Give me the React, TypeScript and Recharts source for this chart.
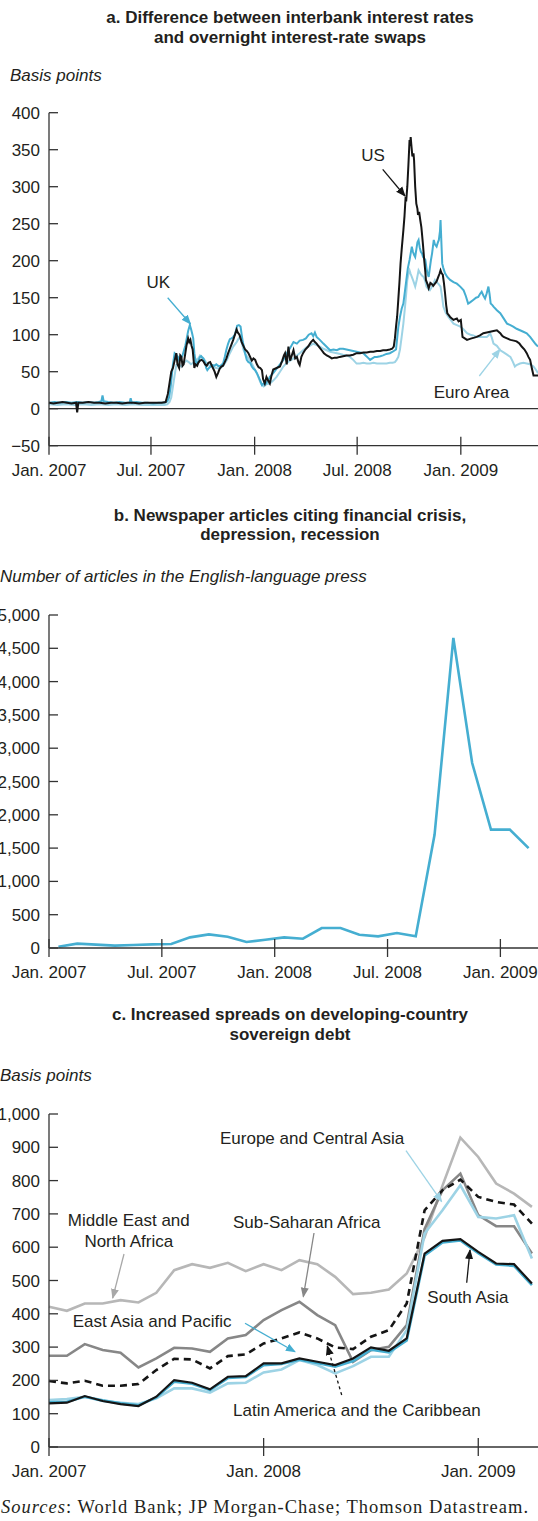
import React from 'react';
import { LineChart, Line, XAxis, YAxis, ReferenceLine } from 'recharts';

const SANS = '"Liberation Sans", Arial, Helvetica, sans-serif';
const SERIF = '"Liberation Serif", "Times New Roman", serif';
const AXIS = '#333333';
const TEXT = '#231f20';
const BLACK = '#151515';
const BLUE = '#45aed1';
const LIGHT = '#9dd3e5';
const DGREY = '#878787';
const LGREY = '#b7b7b7';
const W = 538;

// ---------- Panel a : days since 1 Jan 2007, basis points ----------
const aTickDays = [0, 181, 365, 547, 731];
const dateLabels = ['Jan. 2007', 'Jul. 2007', 'Jan. 2008', 'Jul. 2008', 'Jan. 2009'];
const aYTicks = [-50, 0, 50, 100, 150, 200, 250, 300, 350, 400];

const usSpread: [number, number][] = [
  [0, 8], [8, 7], [16, 8], [24, 9], [32, 8], [40, 7], [48, 8], [50, -5], [52, 8], [60, 8], [70, 9], [80, 8], [90, 8],
  [100, 7], [110, 8], [120, 8], [130, 7], [140, 8], [150, 8], [160, 7], [170, 8], [180, 8], [190, 8], [200, 8], [207, 9],
  [211, 20], [214, 35], [217, 50], [220, 55], [223, 65], [226, 75], [228, 60], [231, 55], [233, 72], [235, 70], [237, 58],
  [239, 60], [242, 75], [244, 85], [247, 95], [249, 90], [251, 93], [253, 85], [255, 80], [258, 55], [260, 60], [263, 58],
  [265, 62], [268, 65], [271, 66], [274, 64], [277, 60], [280, 58], [283, 62], [286, 63], [289, 58], [291, 55], [294, 50],
  [297, 43], [300, 48], [303, 54], [306, 57], [309, 58], [312, 63], [315, 68], [318, 75], [321, 81], [324, 87], [327, 93],
  [330, 100], [333, 107], [335, 103], [338, 100], [340, 95], [342, 90], [345, 85], [348, 80], [351, 78], [354, 75],
  [357, 70], [360, 65], [363, 68], [366, 66], [369, 60], [372, 56], [375, 55], [378, 52], [380, 40], [383, 34], [386, 43],
  [389, 38], [392, 34], [395, 45], [398, 53], [404, 55], [410, 57], [414, 65], [417, 72], [419, 75], [422, 60], [425, 84],
  [428, 65], [431, 72], [434, 79], [437, 68], [440, 70], [443, 62], [445, 59], [448, 70], [451, 75], [455, 80], [460, 84],
  [465, 90], [469, 93], [472, 90], [475, 88], [480, 83], [484, 79], [488, 75], [493, 72], [498, 70], [502, 68], [507, 69],
  [511, 69], [516, 70], [522, 71], [528, 72], [534, 72], [540, 73], [546, 75], [552, 75], [558, 76], [564, 76], [570, 77],
  [576, 77], [582, 78], [588, 78], [593, 79], [599, 79], [605, 80], [609, 81], [612, 84], [614, 95], [616, 111], [618, 125],
  [620, 147], [622, 170], [624, 196], [626, 215], [629, 241], [631, 260], [633, 286], [634, 280], [636, 300], [638, 330],
  [640, 363], [641, 355], [642, 367], [643, 358], [645, 341], [647, 345], [648, 336], [650, 300], [652, 277], [654, 270],
  [655, 262], [657, 266], [659, 255], [661, 245], [662, 237], [664, 220], [666, 201], [668, 185], [669, 174], [672, 168],
  [674, 163], [677, 170], [679, 169], [682, 166], [685, 169], [688, 172], [691, 178], [693, 182], [695, 187], [697, 183],
  [699, 181], [701, 170], [703, 156], [705, 140], [707, 129], [710, 126], [712, 124], [715, 122], [718, 120], [721, 121],
  [724, 122], [727, 118], [731, 120], [733, 105], [734, 97], [738, 95], [742, 93], [746, 94], [750, 95], [755, 96],
  [759, 97], [765, 99], [771, 102], [777, 103], [783, 104], [789, 105], [795, 106], [798, 104], [801, 102], [804, 99],
  [807, 97], [813, 95], [819, 93], [825, 92], [830, 91], [835, 88], [839, 84], [844, 80], [848, 75], [851, 70], [854, 66],
  [857, 55], [860, 45], [868, 45],
];

const ukSpread: [number, number][] = [
  [0, 8], [10, 9], [20, 8], [30, 9], [40, 8], [50, 9], [60, 8], [70, 9], [80, 8], [88, 9], [93, 10], [95, 18], [97, 10],
  [105, 9], [115, 8], [125, 9], [135, 8], [143, 8], [145, 14], [147, 8], [155, 9], [165, 8], [175, 8], [185, 7], [195, 8],
  [205, 8], [210, 10], [213, 15], [216, 30], [218, 45], [220, 60], [223, 75], [226, 73], [229, 70], [231, 65], [234, 68],
  [237, 72], [240, 80], [242, 85], [244, 93], [247, 105], [250, 113], [252, 108], [254, 102], [256, 95], [258, 75],
  [260, 65], [262, 61], [265, 64], [268, 70], [270, 71], [272, 69], [274, 68], [277, 62], [279, 55], [281, 52], [284, 55],
  [287, 57], [290, 59], [293, 58], [297, 60], [300, 58], [303, 57], [306, 59], [309, 61], [312, 70], [315, 80], [318, 88],
  [321, 94], [324, 95], [327, 97], [330, 100], [332, 106], [334, 112], [337, 113], [340, 111], [342, 100], [344, 90],
  [346, 84], [348, 75], [351, 66], [354, 63], [357, 62], [360, 57], [363, 54], [366, 52], [369, 48], [372, 43], [375, 38],
  [378, 32], [381, 34], [384, 33], [387, 36], [390, 40], [392, 43], [398, 48], [404, 54], [410, 60], [416, 66], [422, 75],
  [428, 82], [434, 90], [440, 88], [445, 92], [451, 93], [456, 95], [461, 100], [466, 102], [469, 98], [472, 103],
  [475, 97], [478, 95], [482, 92], [487, 88], [491, 85], [495, 82], [499, 79], [505, 80], [511, 79], [516, 81], [522, 81],
  [528, 80], [534, 79], [540, 78], [546, 77], [552, 76], [558, 75], [562, 72], [566, 69], [570, 66], [574, 68], [578, 70],
  [582, 70], [588, 71], [593, 72], [599, 74], [605, 75], [610, 77], [614, 79], [616, 80], [618, 95], [620, 110], [623, 124],
  [626, 135], [629, 142], [632, 160], [635, 178], [637, 190], [640, 201], [642, 210], [644, 219], [646, 212], [648, 208],
  [650, 205], [652, 215], [654, 225], [656, 228], [658, 218], [660, 212], [662, 210], [664, 205], [666, 203], [668, 201],
  [670, 190], [672, 182], [674, 178], [676, 190], [678, 201], [680, 210], [683, 228], [685, 222], [688, 219], [690, 224],
  [692, 228], [694, 240], [695, 255], [696, 235], [698, 196], [700, 190], [703, 183], [707, 178], [712, 174], [718, 171],
  [724, 169], [730, 165], [736, 160], [740, 152], [744, 142], [748, 144], [753, 147], [758, 150], [762, 151], [765, 155],
  [768, 158], [771, 153], [774, 149], [777, 156], [780, 165], [782, 155], [784, 142], [787, 140], [789, 138], [795, 133],
  [801, 129], [807, 122], [813, 115], [819, 113], [824, 111], [830, 108], [836, 106], [842, 104], [848, 102], [854, 97],
  [860, 91], [864, 87], [868, 84],
];

const euroSpread: [number, number][] = [
  [0, 6], [15, 5], [30, 6], [45, 5], [60, 6], [75, 5], [90, 6], [105, 5], [120, 6], [135, 5], [150, 6], [165, 5], [180, 5],
  [195, 5], [205, 5], [210, 6], [214, 9], [217, 15], [220, 30], [223, 45], [226, 59], [230, 60], [235, 57], [240, 62],
  [244, 65], [248, 63], [252, 60], [256, 62], [260, 65], [265, 68], [268, 72], [272, 70], [276, 66], [280, 61], [285, 58],
  [291, 57], [297, 55], [303, 54], [309, 58], [312, 61], [316, 66], [321, 75], [327, 84], [333, 90], [336, 94], [339, 97],
  [342, 90], [345, 80], [348, 75], [352, 70], [357, 65], [362, 58], [366, 52], [369, 48], [372, 42], [375, 36], [378, 32],
  [381, 30], [386, 33], [392, 34], [398, 38], [404, 43], [410, 50], [416, 57], [422, 62], [428, 65], [434, 68], [440, 72],
  [445, 75], [451, 79], [457, 83], [463, 85], [469, 88], [475, 86], [481, 84], [487, 81], [493, 79], [499, 77], [505, 76],
  [511, 75], [517, 74], [522, 73], [528, 72], [534, 70], [540, 66], [546, 61], [552, 61], [558, 62], [564, 61], [570, 61],
  [576, 62], [582, 61], [588, 61], [593, 61], [599, 61], [605, 62], [610, 62], [614, 63], [617, 66], [620, 70], [623, 80],
  [626, 97], [629, 115], [632, 138], [634, 155], [636, 174], [638, 182], [640, 187], [642, 182], [644, 178], [647, 172],
  [650, 165], [653, 175], [656, 187], [659, 183], [662, 180], [665, 178], [668, 172], [670, 165], [673, 162], [676, 160],
  [680, 165], [683, 170], [685, 174], [688, 171], [691, 169], [693, 167], [695, 165], [698, 150], [700, 138], [704, 130],
  [709, 124], [713, 120], [718, 115], [724, 113], [730, 111], [736, 107], [742, 102], [748, 100], [753, 99], [759, 97],
  [765, 97], [771, 97], [777, 97], [780, 99], [783, 102], [786, 96], [789, 88], [795, 85], [801, 79], [807, 76], [813, 73],
  [819, 70], [823, 64], [827, 57], [830, 59], [836, 61], [842, 62], [848, 61], [854, 60], [860, 57], [864, 53], [868, 48],
];

// ---------- Panel b : monthly article counts, Jan 2007 - Feb 2009 ----------
const bTickMonths = [0, 6, 12, 18, 24];
const bYTicks = [0, 500, 1000, 1500, 2000, 2500, 3000, 3500, 4000, 4500, 5000];
const articleCounts = [20, 65, 50, 35, 45, 55, 60, 160, 205, 170, 90, 125, 160, 140, 300, 300, 200, 175, 225, 175, 1700, 4655, 2778, 1777, 1777, 1500];

// ---------- Panel c : monthly sovereign spreads, Jan 2007 - Apr 2009 ----------
const cTickMonths = [0, 12, 24];
const cTickLabels = ['Jan. 2007', 'Jan. 2008', 'Jan. 2009'];
const cYTicks = [0, 100, 200, 300, 400, 500, 600, 700, 800, 900, 1000];
const menaSpread = [421, 409, 431, 431, 441, 434, 463, 531, 549, 538, 553, 528, 549, 531, 561, 549, 511, 459, 463, 473, 521, 630, 785, 929, 871, 791, 761, 721];
const ssaSpread = [274, 274, 309, 291, 283, 239, 266, 298, 296, 286, 326, 336, 381, 411, 436, 396, 366, 256, 291, 301, 366, 655, 771, 821, 696, 663, 663, 581];
const lacSpread = [198, 191, 199, 184, 184, 189, 231, 265, 263, 236, 273, 278, 311, 326, 344, 326, 299, 294, 331, 351, 431, 711, 771, 803, 751, 736, 728, 671];
const ecaSpread = [141, 144, 151, 138, 133, 129, 146, 176, 176, 163, 191, 193, 224, 233, 261, 246, 221, 243, 271, 271, 351, 641, 711, 786, 691, 686, 696, 566];
const eapSpread = [134, 136, 151, 140, 131, 125, 149, 196, 190, 171, 207, 210, 246, 249, 262, 252, 241, 258, 292, 284, 320, 575, 614, 620, 582, 548, 544, 486];
const saSpread = [131, 133, 153, 138, 129, 123, 151, 201, 193, 173, 211, 213, 251, 251, 266, 256, 246, 266, 299, 289, 326, 581, 619, 624, 586, 551, 549, 491];

const pairs = (arr: [number, number][]) => arr.map(([d, v]) => ({ d, v }));
const fmtThousands = (v: number) => (v < 0 ? '\u2212' + Math.abs(v) : v.toLocaleString('en-US'));

const makeXTick = (ticks: number[], labels: string[]) => (props: any) => {
  const { x, y, payload } = props;
  const i = ticks.indexOf(payload.value);
  return (
    <g>
      <line x1={x} x2={x} y1={y - 9} y2={y + 9} stroke={AXIS} strokeWidth={1.3} />
      <text x={x} y={y + 30} textAnchor="middle" fontSize={17} fontFamily={SANS} fill={TEXT}>
        {labels[i]}
      </text>
    </g>
  );
};

const YTick = (props: any) => {
  const { x, y, payload } = props;
  return (
    <g>
      <line x1={x} x2={x + 9} y1={y} y2={y} stroke={AXIS} strokeWidth={1.3} />
      <text x={x - 9} y={y + 6} textAnchor="end" fontSize={17} fontFamily={SANS} fill={TEXT}>
        {fmtThousands(payload.value)}
      </text>
    </g>
  );
};

const axisLineStyle = { stroke: AXIS, strokeWidth: 1.3 };

function PanelA() {
  return (
    <div style={{ position: 'absolute', left: 0, top: 100 }}>
      <LineChart width={W} height={400} margin={{ top: 12.7, right: 0, bottom: 20, left: 0 }}>
        <XAxis type="number" dataKey="d" domain={[0, 868]} ticks={aTickDays} interval={0} height={34.3}
          tickSize={0} tickMargin={0} tickLine={false} axisLine={axisLineStyle} tick={makeXTick(aTickDays, dateLabels)} />
        <YAxis type="number" domain={[-50, 400]} ticks={aYTicks} interval={0} width={49}
          tickSize={0} tickMargin={0} tickLine={false} axisLine={axisLineStyle} tick={YTick} />
        <ReferenceLine y={0} stroke={AXIS} strokeWidth={1.3} />
        <Line data={pairs(euroSpread)} dataKey="v" type="linear" stroke={LIGHT} strokeWidth={2} dot={false} isAnimationActive={false} />
        <Line data={pairs(ukSpread)} dataKey="v" type="linear" stroke={BLUE} strokeWidth={2} dot={false} isAnimationActive={false} />
        <Line data={pairs(usSpread)} dataKey="v" type="linear" stroke={BLACK} strokeWidth={2} dot={false} isAnimationActive={false} />
      </LineChart>
    </div>
  );
}

function PanelB() {
  const data = articleCounts.map((v, k) => ({ m: k + 0.5, v }));
  return (
    <div style={{ position: 'absolute', left: 0, top: 600 }}>
      <LineChart width={W} height={400} data={data} margin={{ top: 15, right: 0, bottom: 20, left: 0 }}>
        <XAxis type="number" dataKey="m" domain={[0, 26]} ticks={bTickMonths} interval={0} height={32}
          tickSize={0} tickMargin={0} tickLine={false} axisLine={axisLineStyle} tick={makeXTick(bTickMonths, dateLabels)} />
        <YAxis type="number" domain={[0, 5000]} ticks={bYTicks} interval={0} width={49}
          tickSize={0} tickMargin={0} tickLine={false} axisLine={axisLineStyle} tick={YTick} />
        <Line dataKey="v" type="linear" stroke={BLUE} strokeWidth={2.6} dot={false} isAnimationActive={false} />
      </LineChart>
    </div>
  );
}

function PanelC() {
  const data = menaSpread.map((_, k) => ({
    m: k,
    mena: menaSpread[k],
    ssa: ssaSpread[k],
    lac: lacSpread[k],
    eca: ecaSpread[k],
    eap: eapSpread[k],
    sa: saSpread[k],
  }));
  return (
    <div style={{ position: 'absolute', left: 0, top: 1100 }}>
      <LineChart width={W} height={400} data={data} margin={{ top: 14, right: 0, bottom: 20, left: 0 }}>
        <XAxis type="number" dataKey="m" domain={[0, 27.34]} ticks={cTickMonths} interval={0} height={33}
          tickSize={0} tickMargin={0} tickLine={false} axisLine={axisLineStyle} tick={makeXTick(cTickMonths, cTickLabels)} />
        <YAxis type="number" domain={[0, 1000]} ticks={cYTicks} interval={0} width={49}
          tickSize={0} tickMargin={0} tickLine={false} axisLine={axisLineStyle} tick={YTick} />
        <Line dataKey="mena" type="linear" stroke={LGREY} strokeWidth={2.6} dot={false} isAnimationActive={false} />
        <Line dataKey="ssa" type="linear" stroke={DGREY} strokeWidth={2.6} dot={false} isAnimationActive={false} />
        <Line dataKey="lac" type="linear" stroke={BLACK} strokeWidth={2.6} strokeDasharray="7 5" dot={false} isAnimationActive={false} />
        <Line dataKey="eca" type="linear" stroke={LIGHT} strokeWidth={2.6} dot={false} isAnimationActive={false} />
        <Line dataKey="eap" type="linear" stroke={BLUE} strokeWidth={2.6} dot={false} isAnimationActive={false} />
        <Line dataKey="sa" type="linear" stroke={BLACK} strokeWidth={2.2} dot={false} isAnimationActive={false} />
      </LineChart>
    </div>
  );
}

const Marker = ({ id, color }: { id: string; color: string }) => (
  <marker id={id} viewBox="0 0 10 10" refX={9} refY={5} markerWidth={10} markerHeight={10} markerUnits="userSpaceOnUse" orient="auto">
    <path d="M0,1 L10,5 L0,9 z" fill={color} />
  </marker>
);

const Arrow = ({ x1, y1, x2, y2, color, id, dash }: any) => (
  <line x1={x1} y1={y1} x2={x2} y2={y2} stroke={color} strokeWidth={1.3} markerEnd={`url(#${id})`} strokeDasharray={dash} />
);

const T = (p: any) => (
  <text fontFamily={SANS} fontSize={17} fill={TEXT} {...p} />
);

function Overlay() {
  const cx = 290;
  return (
    <svg width={W} height={1521} style={{ position: 'absolute', left: 0, top: 0, pointerEvents: 'none' }}>
      <defs>
        <Marker id="mBlue" color={BLUE} />
        <Marker id="mLight" color={LIGHT} />
        <Marker id="mBlack" color={BLACK} />
        <Marker id="mDGrey" color={DGREY} />
        <Marker id="mLGrey" color="#a8a8a8" />
      </defs>
      {/* Panel a */}
      <T x={cx} y={23} textAnchor="middle" fontWeight="bold">a. Difference between interbank interest rates</T>
      <T x={cx} y={43} textAnchor="middle" fontWeight="bold">and overnight interest-rate swaps</T>
      <T x={10} y={81} fontStyle="italic">Basis points</T>
      <T x={158.3} y={288.3} textAnchor="middle">UK</T>
      <Arrow x1={167.7} y1={297.7} x2={190.5} y2={324} color={BLUE} id="mBlue" />
      <T x={373} y={160.7} textAnchor="middle">US</T>
      <Arrow x1={382.7} y1={169.3} x2={405} y2={196} color={BLACK} id="mBlack" />
      <T x={471.5} y={398.3} textAnchor="middle">Euro Area</T>
      <Arrow x1={479.3} y1={376} x2={500} y2={349.3} color={LIGHT} id="mLight" />

      {/* Panel b */}
      <T x={cx} y={520.6} textAnchor="middle" fontWeight="bold">b. Newspaper articles citing financial crisis,</T>
      <T x={cx} y={539.6} textAnchor="middle" fontWeight="bold">depression, recession</T>
      <T x={0} y={581.7} fontStyle="italic">Number of articles in the English-language press</T>

      {/* Panel c */}
      <T x={cx} y={1020} textAnchor="middle" fontWeight="bold">c. Increased spreads on developing-country</T>
      <T x={cx} y={1039.5} textAnchor="middle" fontWeight="bold">sovereign debt</T>
      <T x={0} y={1081} fontStyle="italic">Basis points</T>
      <T x={220} y={1144}>Europe and Central Asia</T>
      <Arrow x1={406} y1={1150.7} x2={441.7} y2={1201.7} color={LIGHT} id="mLight" />
      <T x={128.8} y={1226} textAnchor="middle">Middle East and</T>
      <T x={128.8} y={1246.7} textAnchor="middle">North Africa</T>
      <Arrow x1={124} y1={1254} x2={112.7} y2={1298} color="#a8a8a8" id="mLGrey" />
      <T x={233} y={1228}>Sub-Saharan Africa</T>
      <Arrow x1={314} y1={1233} x2={303.3} y2={1296.7} color={DGREY} id="mDGrey" />
      <T x={72.7} y={1327}>East Asia and Pacific</T>
      <Arrow x1={245} y1={1323.3} x2={295} y2={1351.7} color={BLUE} id="mBlue" />
      <T x={427.3} y={1303.3}>South Asia</T>
      <Arrow x1={466.7} y1={1282.7} x2={470} y2={1250} color={BLACK} id="mBlack" />
      <T x={233} y={1416}>Latin America and the Caribbean</T>
      <Arrow x1={341.7} y1={1395} x2={327.3} y2={1346} color={BLACK} id="mBlack" dash="3 3" />

      <text x={1} y={1513} fontFamily={SERIF} fontSize={18.5} fill={TEXT} textLength={527} lengthAdjust="spacing">
        <tspan fontStyle="italic">Sources</tspan>: World Bank; JP Morgan-Chase; Thomson Datastream.
      </text>
    </svg>
  );
}

export default function App() {
  return (
    <div style={{ position: 'absolute', left: 0, top: 0, width: W, height: 1521, background: '#ffffff', overflow: 'hidden' }}>
      <PanelA />
      <PanelB />
      <PanelC />
      <Overlay />
    </div>
  );
}
